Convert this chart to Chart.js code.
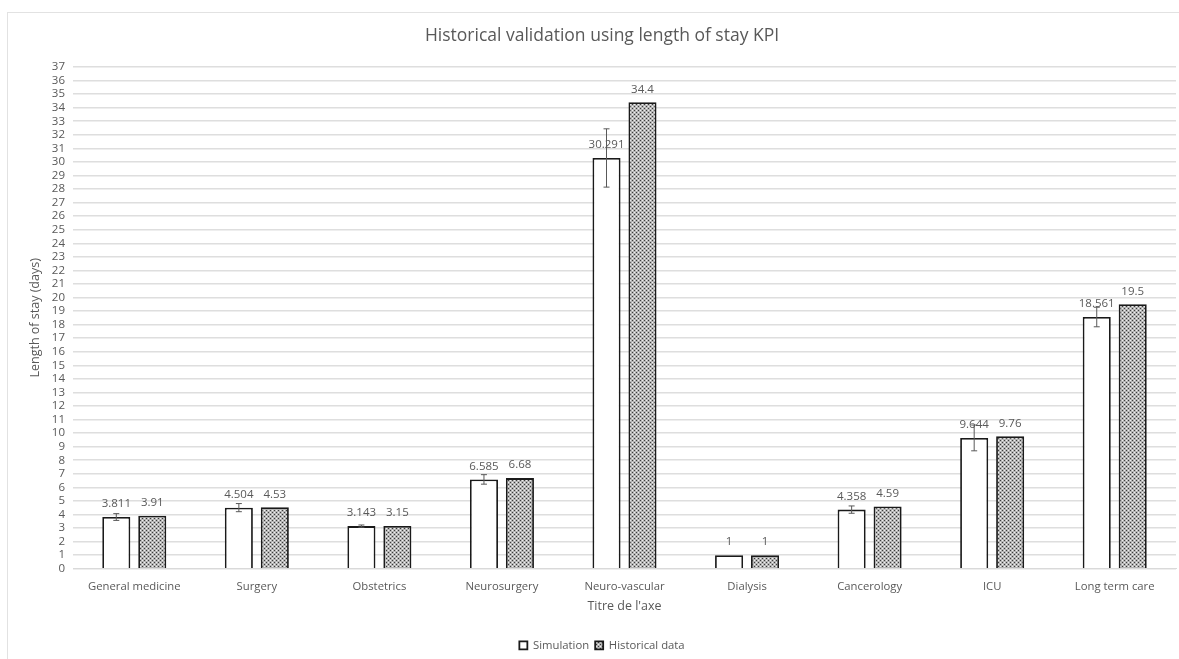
<!DOCTYPE html>
<html>
<head>
<meta charset="utf-8">
<style>
  html, body { margin: 0; padding: 0; background: #fff; }
  #wrap { position: relative; width: 1179px; height: 659px; }
</style>
<script src="https://cdn.jsdelivr.net/npm/chart.js@4"></script>
</head>
<body>
<div id="wrap"><canvas id="chart" width="1179" height="659"></canvas></div>
<script>
const categories = ['General medicine', 'Surgery', 'Obstetrics', 'Neurosurgery', 'Neuro-vascular', 'Dialysis', 'Cancerology', 'ICU', 'Long term care'];
const simulation = [3.811, 4.504, 3.143, 6.585, 30.291, 1, 4.358, 9.644, 18.561];
const historical = [3.91, 4.53, 3.15, 6.68, 34.4, 1, 4.59, 9.76, 19.5];
const simulationError = [0.25, 0.3, 0.08, 0.35, 2.15, 0, 0.27, 0.95, 0.72];

const textColor = '#595959';
const fontName = '"Open Sans", sans-serif';

// dotted fill for the historical bars
function makePattern() {
  const c = document.createElement('canvas');
  c.width = 4;
  c.height = 4;
  const p = c.getContext('2d');
  p.fillStyle = '#b4b4b4';
  p.fillRect(0, 0, 4, 4);
  p.fillStyle = '#3c3c3c';
  p.fillRect(0, 0, 1, 1);
  p.fillRect(2, 2, 1, 1);
  p.fillStyle = '#f0f0f0';
  p.fillRect(2, 0, 1, 1);
  p.fillRect(0, 2, 1, 1);
  return p.createPattern(c, 'repeat');
}

// outer frame of the chart
const framePlugin = {
  id: 'frame',
  beforeDraw(chart) {
    const ctx = chart.ctx;
    ctx.save();
    ctx.strokeStyle = '#e2e2e2';
    ctx.lineWidth = 1;
    ctx.strokeRect(7.5, 12.5, 1400, 1400);
    ctx.restore();
  }
};

// whiskers on the simulation bars
const errorBarPlugin = {
  id: 'errorBars',
  afterDatasetsDraw(chart) {
    const ctx = chart.ctx;
    const y = chart.scales.y;
    const bars = chart.getDatasetMeta(0).data;
    ctx.save();
    ctx.strokeStyle = '#595959';
    ctx.lineWidth = 1;
    bars.forEach((bar, i) => {
      const err = simulationError[i];
      if (!err) return;
      const top = y.getPixelForValue(simulation[i] + err);
      const low = y.getPixelForValue(simulation[i] - err);
      ctx.beginPath();
      ctx.moveTo(bar.x, top);
      ctx.lineTo(bar.x, low);
      ctx.moveTo(bar.x - 3, top);
      ctx.lineTo(bar.x + 3, top);
      ctx.moveTo(bar.x - 3, low);
      ctx.lineTo(bar.x + 3, low);
      ctx.stroke();
    });
    ctx.restore();
  }
};

const valueLabelPlugin = {
  id: 'valueLabels',
  afterDraw(chart) {
    const ctx = chart.ctx;
    ctx.save();
    ctx.fillStyle = textColor;
    ctx.font = '11.5px ' + fontName;
    ctx.textAlign = 'center';
    ctx.textBaseline = 'middle';
    chart.data.datasets.forEach((ds, d) => {
      chart.getDatasetMeta(d).data.forEach((bar, i) => {
        ctx.fillText(String(ds.data[i]), bar.x, bar.y - 13);
      });
    });
    ctx.restore();
  }
};

new Chart(document.getElementById('chart'), {
  type: 'bar',
  data: {
    labels: categories,
    datasets: [
      {
        label: 'Simulation',
        data: simulation,
        backgroundColor: '#ffffff',
        borderColor: '#1a1a1a',
        borderWidth: 1.8,
        categoryPercentage: 0.587,
        barPercentage: 0.78
      },
      {
        label: 'Historical data',
        data: historical,
        backgroundColor: makePattern(),
        borderColor: '#1a1a1a',
        borderWidth: 1.8,
        categoryPercentage: 0.587,
        barPercentage: 0.78
      }
    ]
  },
  options: {
    responsive: false,
    animation: false,
    layout: { padding: { top: 26, left: 28, right: 3, bottom: -2 } },
    plugins: {
      title: {
        display: true,
        text: 'Historical validation using length of stay KPI',
        color: textColor,
        font: { family: fontName, size: 17.5, weight: 'normal' },
        padding: { top: 0, bottom: 20 }
      },
      legend: {
        position: 'bottom',
        labels: {
          color: textColor,
          font: { family: fontName, size: 11.3 },
          boxWidth: 8,
          boxHeight: 8,
          padding: 6
        }
      },
      tooltip: { enabled: false }
    },
    scales: {
      x: {
        afterFit(scale) { scale.height = 65; },
        grid: { display: false },
        border: { color: '#d9d9d9' },
        ticks: { color: textColor, font: { family: fontName, size: 11.3 }, maxRotation: 0, padding: 3 },
        title: {
          display: true,
          text: "Titre de l'axe",
          color: textColor,
          font: { family: fontName, size: 12.5 },
          padding: { top: 3, bottom: 20 }
        }
      },
      y: {
        afterFit(scale) { scale.width = 45; },
        min: 0,
        max: 37,
        grid: { color: '#dedede', lineWidth: 1.5, drawTicks: false },
        border: { display: false },
        ticks: { stepSize: 1, autoSkip: false, color: textColor, font: { family: fontName, size: 11.5 }, padding: 8 },
        title: {
          display: true,
          text: 'Length of stay (days)',
          color: textColor,
          font: { family: fontName, size: 12.5 },
          padding: { top: 0, bottom: 0 }
        }
      }
    }
  },
  plugins: [framePlugin, errorBarPlugin, valueLabelPlugin]
});
</script>
</body>
</html>
